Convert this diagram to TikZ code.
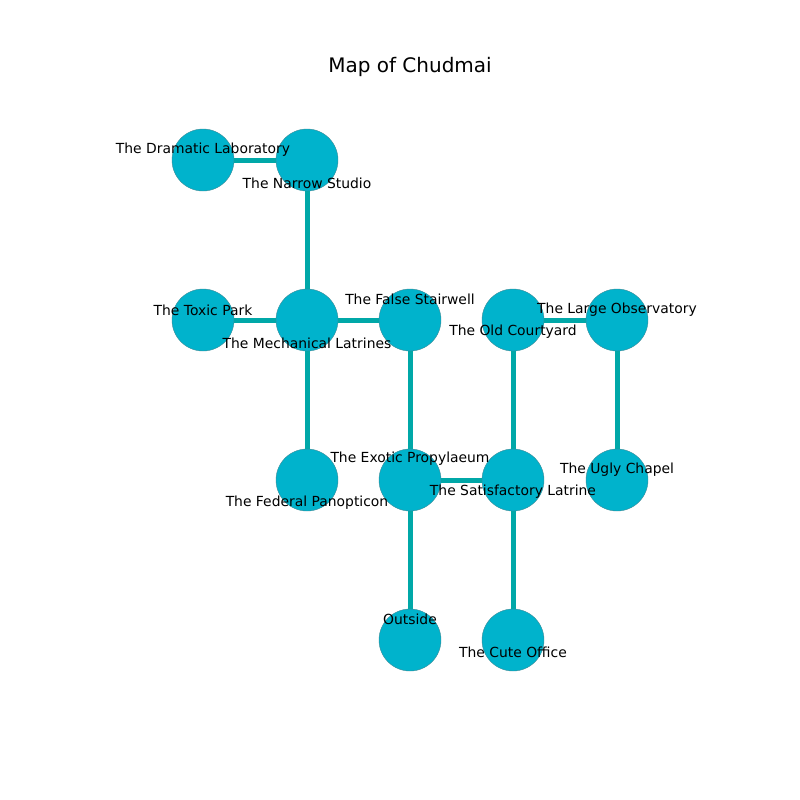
\documentclass[tikz,border=0pt]{standalone}
\usepackage{fontspec}
\setmainfont{DejaVu Sans}
\usetikzlibrary{backgrounds}
\definecolor{nodefill}{HTML}{00B3CC}
\definecolor{edgecol}{HTML}{00A8A8}
\definecolor{rimcol}{HTML}{3C8A96}
\begin{document}
\begin{tikzpicture}[x=0.72pt,y=-0.72pt,
  place/.style={circle,fill=nodefill,draw=rimcol,line width=0.3pt,minimum size=62*0.72pt,inner sep=0pt},
  lbl/.style={font=\fontsize{10}{12}\selectfont,inner sep=0pt,anchor=center},
  link/.style={draw=edgecol,line width=3.6pt}]
\useasboundingbox (0,0) rectangle (800,800);
\node[font=\fontsize{14.4}{16}\selectfont] (title) at (410,67) {Map of Chudmai};
% nodes
\node[place] (dra) at (203,160) {};
\node[place] (nar) at (307,160) {};
\node[place] (tox) at (203,320) {};
\node[place] (mec) at (307,320) {};
\node[place] (fal) at (410,320) {};
\node[place] (old) at (513,320) {};
\node[place] (lar) at (617,320) {};
\node[place] (fed) at (307,480) {};
\node[place] (exo) at (410,480) {};
\node[place] (sat) at (513,480) {};
\node[place] (ugl) at (617,480) {};
\node[place] (out) at (410,640) {};
\node[place] (cut) at (513,640) {};
% edges
\begin{scope}[on background layer]
\path[link] (dra.center) -- (nar.center);
\path[link] (nar.center) -- (mec.center);
\path[link] (tox.center) -- (mec.center);
\path[link] (mec.center) -- (fal.center);
\path[link] (mec.center) -- (fed.center);
\path[link] (fal.center) -- (exo.center);
\path[link] (exo.center) -- (sat.center);
\path[link] (exo.center) -- (out.center);
\path[link] (old.center) -- (lar.center);
\path[link] (old.center) -- (sat.center);
\path[link] (sat.center) -- (cut.center);
\path[link] (lar.center) -- (ugl.center);
\end{scope}
% labels
\node[lbl] (ldra) at (203,150) {The Dramatic Laboratory};
\node[lbl] (lnar) at (307,183) {The Narrow Studio};
\node[lbl] (ltox) at (203,310) {The Toxic Park};
\node[lbl] (lmec) at (307,343) {The Mechanical Latrines};
\node[lbl] (lfal) at (410,299) {The False Stairwell};
\node[lbl] (lold) at (513,332) {The Old Courtyard};
\node[lbl] (llar) at (617,310) {The Large Observatory};
\node[lbl] (lexo) at (410,459) {The Exotic Propylaeum};
\node[lbl] (lsat) at (513,492) {The Satisfactory Latrine};
\node[lbl] (lugl) at (617,470) {The Ugly Chapel};
\node[lbl] (lfed) at (307,503) {The Federal Panopticon};
\node[lbl] (lout) at (410,619) {Outside};
\node[lbl] (lcut) at (513,652) {The Cute Office};
\end{tikzpicture}
\end{document}
